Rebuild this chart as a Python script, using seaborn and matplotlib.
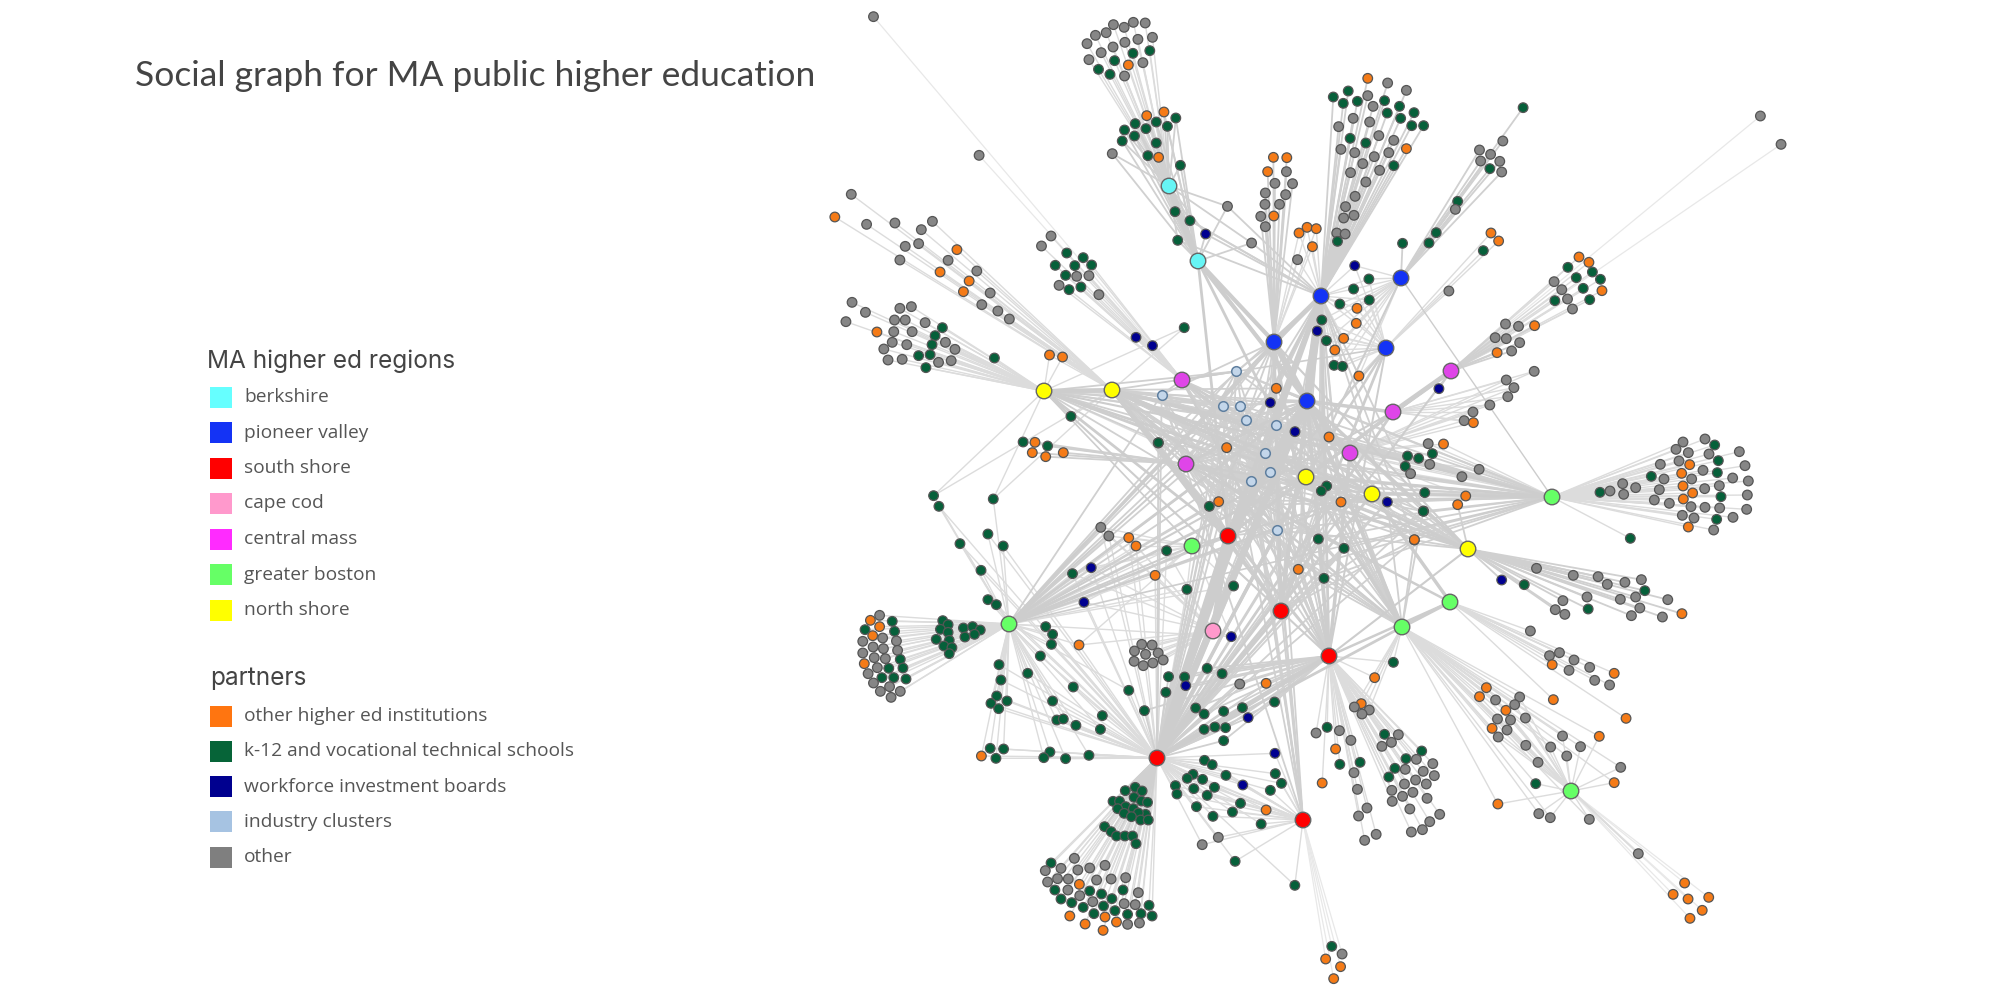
#!/usr/bin/env python3
"""Social graph for MA public higher education, node positions read off the picture."""
import matplotlib
matplotlib.use("Agg")
import matplotlib.pyplot as plt
from matplotlib.collections import LineCollection
from matplotlib.patches import Rectangle
import pandas as pd
import seaborn as sns

TITLE = "Social graph for MA public higher education"
REGION_HEADER = "MA higher ed regions"
REGION_LABELS = ["berkshire", "pioneer valley", "south shore", "cape cod", "central mass", "greater boston", "north shore"]
REGION_SWATCHES = ["#66FFFF", "#1433F5", "#FF0000", "#FF99CC", "#FF2BFF", "#66FF66", "#FFFF00"]
PARTNER_HEADER = "partners"
PARTNER_LABELS = ["other higher ed institutions", "k-12 and vocational technical schools",
                  "workforce investment boards", "industry clusters", "other"]
PARTNER_SWATCHES = ["#FF7510", "#066438", "#00008F", "#A6C3E2", "#7F7F7F"]

HUB_COLORS = {"berkshire": "#66F5F5", "pioneer": "#1433F5", "south": "#FF0000", "cape": "#FF99CC",
              "central": "#DF45E8", "boston": "#66FF66", "north": "#FFFF00"}
NODE_COLORS = {"o": "#F57B17", "k": "#06603A", "w": "#000090", "i": "#C3D6EA", "g": "#868686"}

# hubs: name, region, x, y in picture pixels
HUB_NAMES = ["berk1", "berk2", "pv1", "pv2", "pv3", "pv4", "pv5", "cm1", "cm2", "cm3", "cm4", "cm5",
             "ns1", "ns2", "ns3", "ns4", "ns5", "gb1", "gb2", "gb3", "gb4", "gb5", "gb6",
             "ss1", "ss2", "ss3", "ss4", "ss5", "cape"]
HUB_REGIONS = ["berkshire", "berkshire", "pioneer", "pioneer", "pioneer", "pioneer", "pioneer",
               "central", "central", "central", "central", "central",
               "north", "north", "north", "north", "north",
               "boston", "boston", "boston", "boston", "boston", "boston",
               "south", "south", "south", "south", "south", "cape"]
HUB_X = [1169, 1198, 1321, 1401, 1274, 1386, 1307, 1182, 1186, 1451, 1393, 1350,
         1044, 1112, 1306, 1372, 1468, 1552, 1450, 1402, 1571, 1192, 1009,
         1228, 1281, 1329, 1157, 1303, 1213]
HUB_Y = [186, 261, 296, 278, 342, 348, 401, 380, 464, 371, 412, 453,
         391, 390, 477, 494, 549, 497, 602, 627, 791, 546, 624,
         536, 611, 656, 758, 820, 631]

# partner nodes, grouped by the fan they sit in: kind, x, y in zoomed-crop pixels
far_nw = [("g",192,50),("g",468,466)]
top_fan = [("g",819,74),("g",847,82),("g",871,67),("g",902,69),("g",772,106),("g",800,98),("g",750,131),("g",787,158),
           ("g",818,141),("g",849,127),("g",883,118),("g",921,112),("g",755,179),("g",896,188),("g",848,228),
           ("k",870,160),("k",914,152),("k",822,182),("k",780,208),("k",810,223),("o",858,195)]
top_b = [("o",906,347),("o",951,336),("k",982,354),("k",876,371),("k",931,366),("k",960,379),("k",848,390),("k",904,386),
         ("k",874,408),("k",842,423),("k",931,429),("k",909,467),("g",816,461),("o",937,472),("k",994,496)]
berk_mid = [("k",980,635),("k",1019,662),("k",987,721),("w",1060,702),("g",1117,619),("g",1180,729)]
col_c = [("o",1237,472),("o",1272,473),("o",1222,515),("g",1271,515),("g",1241,550),("g",1287,551),("g",1216,579),
         ("g",1269,584),("g",1215,613),("g",1253,613),("g",1204,649),("o",1238,648),("g",1216,680)]
small_o = [("o",1304,699),("o",1325,682),("o",1349,686),("o",1339,740),("g",1300,779)]
left_a = [("g",134,583),("o",91,651),("g",174,673),("g",248,669),("g",346,664),("g",317,689),("g",310,731),("g",275,739),
          ("g",261,780),("o",410,749),("g",387,781),("o",366,816),("g",462,813),("o",442,843),("o",427,875),("g",497,879),
          ("g",475,914),("g",517,933),("g",547,957)]
left_b = [("g",136,907),("g",171,937),("g",120,965),("g",261,925),("g",291,920),("g",247,960),("g",275,960),("g",327,968),
          ("k",372,983),("o",201,996),("g",245,995),("g",293,995),("k",353,1007),("k",345,1034),("g",241,1027),("g",279,1034),
          ("g",380,1027),("g",219,1047),("g",405,1048),("k",340,1064),("k",310,1067),("g",230,1080),("g",267,1078),
          ("g",362,1087),("g",395,1082),("k",329,1103),("k",508,1074)]
mid_c = [("g",656,708),("g",631,738),("k",697,759),("k",740,773),("k",667,796),("k",718,797),("k",762,795),("k",694,826),
         ("g",723,829),("g",755,827),("g",677,856),("k",703,869),("k",734,861),("g",781,884),("w",878,1012),("w",921,1037)]
by_ns2 = [("o",652,1065),("o",686,1071),("k",708,1249),("k",936,1329),("k",1004,983)]
by_cm2 = [("k",583,1326),("o",614,1327),("k",647,1338),("o",607,1358),("o",642,1370),("o",688,1358)]
low_left = [("k",349,1487),("k",505,1497)]

col_d = [("o",177,235),("g",229,249),("g",278,271),("k",87,291),("k",126,273),("k",113,310),("k",150,304),("k",221,302),
         ("k",260,319),("k",228,339),("k",298,338),("k",263,355),("k",292,377),("k",323,377),("g",177,287),("g",191,319),
         ("g",139,355),("g",182,366),("g",101,380),("k",131,415),("k",172,429),("g",206,407),("g",245,421),("g",107,448),
         ("g",143,458),("g",194,470),("g",232,458),("o",278,446),("g",164,491),("g",132,518),("g",208,511),("k",245,497),
         ("g",172,546),("g",144,589),("g",119,620),("g",141,646),("g",114,654),("g",96,699),("g",118,702),("k",98,724)]
col_e = [("k",583,323),("g",530,423),("g",469,450),("g",498,463),("g",472,483),("g",522,484),("g",527,516),("k",496,506),
         ("k",412,604),("g",406,628),("k",356,698),("k",337,729),("k",268,730)]
by_pv4 = [("o",499,699),("o",519,723),("k",479,752),("g",389,873)]
pv_near = [("w",143,797),("k",180,837),("k",140,867),("k",104,912),("k",181,900),("o",149,925),("o",147,970),("k",57,960),
           ("w",45,993),("k",69,1022),("o",114,1015),("o",91,1050),("k",89,1096),("k",111,1099),("o",154,1128)]
fan_f = [("o",729,771),("o",755,787),("k",700,802),("k",764,816),("k",722,833),("k",785,838),("k",740,865),("g",664,845),
         ("g",684,869),("o",789,872),("k",666,902),("k",757,899),("g",699,897),("g",712,927)]
far_ne = [("g",1203,348),("g",1257,433)]
fan_g = [("g",537,972),("g",571,979),("o",613,977),("g",510,1013),("g",539,1016),("g",574,1028),("g",553,1053),("o",515,1058),("w",363,1166)]
fan_h = [("g",612,1114),("g",539,1140),("g",559,1163),("g",543,1190),("g",496,1215),("g",452,1236),("g",429,1262),("o",453,1268)]
fan_i = [("g",335,1331),("o",375,1332),("k",281,1368),("k",310,1375),("k",346,1361),("k",275,1399),("g",339,1393),("g",289,1421),
         ("g",468,1408),("g",423,1430),("k",326,1478),("o",433,1488)]

right_big = [("g",315,57),("k",344,75),("g",249,66),("g",228,88),("g",265,98),("g",327,102),("g",418,95),("k",355,122),("g",237,123),
             ("g",181,133),("o",269,134),("g",435,137),("g",309,151),("o",245,160),("k",352,158),("k",154,169),("g",192,177),("g",275,177),
             ("g",398,174),("g",445,183),("g",68,191),("g",107,203),("g",30,213),("k",0,217),("g",71,223),("g",178,209),("o",249,198),
             ("o",278,219),("g",314,206),("g",358,197),("k",363,230),("g",442,225),("o",250,237),("g",163,240),("g",208,250),("g",273,260),
             ("g",315,262),("g",359,264),("g",440,268),("g",247,286),("g",282,294),("g",399,292),("k",350,298),("o",265,321),("g",341,330),
             ("k",91,355)]

fan_j = [("w",527,240),("k",586,254),("g",618,205),("g",714,226),("g",779,230),("g",803,253),("g",849,247),("g",892,239),("k",901,272),
         ("g",750,291),("g",837,298),("g",877,291),("g",961,299),("g",687,302),("g",667,329),("g",692,343),("k",753,327),("g",888,324),
         ("g",866,347),("g",947,351),("o",998,341),("o",299,120),("o",412,14),("k",323,33)]
fan_k = [("g",602,393),("g",652,467),("g",678,458),("g",716,480),("o",659,494),("g",703,511),("g",757,502),("o",821,520),("g",770,541),
         ("g",809,555),("o",852,655),("o",662,599)]
fan_l = [("o",487,563),("o",469,590),("g",511,600),("g",574,591),("g",561,614),("o",538,631),("g",516,657),("g",550,660),("g",589,654),
         ("o",502,685),("g",541,690),("g",518,711),("g",590,736),("g",655,741),("g",686,708),("g",733,740),("g",697,768),("g",622,787),
         ("o",782,709),("g",838,802),("o",821,848),("k",616,851),("o",517,912),("g",624,941),("g",654,953),("g",756,958),("g",884,1061)]
fan_m = [("o",1005,1149),("o",975,1183),("o",1014,1197),("o",1068,1192),("o",1051,1231),("o",1019,1255)]
near_ss3 = [("k",244,487),("o",195,533),("o",160,611),("g",142,621),("g",181,630),("g",162,642)]
fan_n = [("k",71,682),("g",42,699),("g",103,692),("g",133,721),("k",221,703),("g",257,704),("g",239,727),("g",214,739),("k",318,753),
         ("k",277,776),("g",304,778),("g",347,791),("k",248,805),("k",232,831),("g",275,808),("g",322,814),("g",351,827),("g",141,818),
         ("o",93,747),("k",104,793),("k",157,787),("o",58,849),("g",273,852),("g",302,840),("g",330,852),("g",240,871),("g",295,877),
         ("g",268,889),("g",150,868),("g",241,904),("g",332,895),("g",287,927),("g",175,924),("g",153,948),("g",365,943),("g",339,965),
         ("g",320,989),("g",291,996),("g",199,1003),("g",169,1021)]
tail_s = [("k",83,1339),("g",110,1362),("o",67,1377),("o",106,1400),("o",88,1436)]

left_fan = [("g",208,346),("o",184,361),("k",241,364),("o",208,380),("k",170,389),("k",247,394),("o",190,407),("g",216,414),("g",164,424),
            ("g",252,423),("g",191,441),("g",218,446),("g",255,451),("g",164,459),("g",194,473),("g",223,476),("k",262,478),("o",168,491),
            ("g",202,503),("k",232,505),("k",269,504),("g",178,521),("k",214,533),("k",245,533),("k",277,537),("g",192,549),("g",234,560),
            ("g",262,574),("g",210,574),("g",238,592)]
left_dense = [("k",373,362),("k",387,374),("k",367,388),("k",387,397),("k",427,384),("k",451,380),("k",471,390),("k",431,411),("k",456,403),
              ("k",356,418),("k",390,421),("k",376,438),("k",397,443),("k",390,461)]
gb6_near = [("k",491,299),("k",513,314),("k",473,211),("k",418,131),("k",491,102),("k",531,138),("k",363,19),("k",642,380),("k",660,403),
            ("k",657,433),("k",628,468),("k",520,494),("k",595,520),("k",525,540),("k",714,561),("k",514,588),("k",541,603),("k",499,610),
            ("k",519,626),("k",660,603),("k",671,660),("k",688,657),("k",721,676),("k",790,647),("k",785,688),("k",859,571)]
row_w = [("o",474,768),("k",497,745),("k",532,747),("k",512,775),("k",653,756),("k",637,773),("k",694,776),("k",755,766)]
mid_low = [("w",761,203),("w",742,307),("k",712,221),("o",729,435),("g",786,82),("g",807,108),("o",859,113),("o",878,138),("k",958,152),
           ("o",928,226),("k",1011,268),("k",1133,258),("w",1127,410)]
gray_knot = [("g",893,433),("g",920,435),("g",874,453),("g",903,463),("g",936,459),("g",873,484),("g",897,497),("g",922,489),("g",949,480)]
ss4_up = [("k",963,530),("k",1005,531),("w",1008,557),("k",956,577),("k",900,632),("k",1064,505),("k",1103,521),("g",1149,552),("o",1218,550),
          ("k",1240,606),("k",1034,624),("k",1056,642),("k",1107,634),("k",1156,623),("w",1171,653),("k",1056,688),("k",1084,681),
          ("k",1112,683),("k",1107,722)]
ss4_right = [("k",1057,781),("k",1077,794),("k",1113,826),("k",1027,823),("k",1012,835),("k",1052,838),("k",1083,862),("k",981,857),("k",985,882),
             ("k",1029,866),("k",1064,886),("k",1036,920),("k",1079,949),("k",1130,936),("k",1151,910),("k",1229,871),("k",1242,821),("k",1258,850),
             ("k",1205,972),("w",1241,760),("w",1157,855),("o",1218,930),("g",1093,1012),("g",1051,1034),("k",1137,1084),("k",1293,1156)]
wedge = [("k",876,862),("k",850,872),("k",894,873),("k",873,892),("k",892,903),("k",908,907),("k",818,904),("k",835,904),("k",851,920),("k",871,926),
         ("k",830,926),("k",847,940),("k",903,943),("k",884,939),("k",866,950),("k",890,960),("k",910,960),("k",796,980),("k",813,995),("k",827,1008),
         ("k",849,1008),("k",869,1008),("k",878,1031)]
bottom_fan = [("k",656,1089),("g",717,1075),("g",682,1105),("g",726,1110),("g",757,1104),("g",797,1096),("g",641,1112),("g",647,1146),("g",673,1136),
              ("g",701,1137),("g",775,1140),("g",813,1137),("g",851,1133),("o",730,1153),("k",666,1170),("k",757,1173),("g",700,1170),("k",844,1170),
              ("g",884,1178),("k",788,1182),("k",682,1197),("g",731,1187),("k",815,1196),("k",710,1208),("k",740,1222),("g",765,1205),("g",847,1211),
              ("g",876,1214),("k",793,1218),("k",823,1232),("k",912,1216),("k",768,1241),("k",856,1243),("k",891,1241),("k",920,1248),("o",705,1248),
              ("o",797,1251),("o",745,1272),("o",827,1266),("g",856,1273),("g",887,1269),("o",792,1291)]
center_i = [("i",319,124),("i",95,194),("i",280,227),("i",331,227),("i",347,269),("i",437,285),("i",404,368),("i",420,426),("i",363,454),("i",440,601)]
center_p = [("o",439,175),("o",290,353),("o",597,321),("o",266,515),("o",633,516),("o",853,629),("o",505,718),("w",421,218),("w",495,305),("w",772,516),
            ("k",85,338),("k",238,529),("k",590,468),("k",574,483),("k",565,627),("k",642,655),("k",880,544),("k",582,745)]

# crop origin and scale of each group's coordinates
CROP_ORIGIN = {"TL": (800, 0), "TR": (1300, 0), "BL": (800, 500), "BR": (1300, 500),
               "C": (1130, 330), "Z": (1600, 420)}
CROP_SCALE = {"TL": 2.613, "TR": 2.613, "BL": 2.613, "BR": 2.613, "C": 3.0, "Z": 3.0}

# group, crop, linked hubs, edge weight (0 faint, 1 normal, 2 heavy)
GROUPS = [
    (far_nw, "TL", ["cm1"], 0), (top_fan, "TL", ["berk1"], 1), (top_b, "TL", ["berk1", "berk2"], 2),
    (berk_mid, "TL", ["berk1", "berk2", "pv1"], 2), (col_c, "TL", ["pv3"], 2), (small_o, "TL", ["pv1", "pv3"], 1),
    (left_a, "TL", ["ns2"], 1), (left_b, "TL", ["ns1"], 1), (mid_c, "TL", ["cm1"], 1),
    (by_ns2, "TL", ["ns2", "ns1"], 1), (by_cm2, "TL", ["cm2"], 2), (low_left, "TL", ["gb6", "ns1", "ns2"], 1),
    (col_d, "TR", ["pv1"], 2), (col_e, "TR", ["pv2"], 2), (by_pv4, "TR", ["pv4"], 1),
    (pv_near, "TR", ["pv1", "pv2", "pv4"], 1), (fan_f, "TR", ["cm3"], 1), (far_ne, "TR", ["cm3"], 0),
    (fan_g, "TR", ["cm3"], 2), (fan_h, "TR", ["cm4", "cm5"], 1), (fan_i, "TR", ["gb1", "cm5"], 1),
    (right_big, "Z", ["gb1"], 1), (fan_j, "BR", ["ns5"], 2), (fan_k, "BR", ["gb2"], 1),
    (fan_l, "BR", ["gb3", "gb4"], 1), (fan_m, "BR", ["gb4"], 0), (near_ss3, "BR", ["ss3", "gb3"], 1),
    (fan_n, "BR", ["ss3"], 1), (tail_s, "BR", ["ss5"], 0), (left_fan, "BL", ["gb6"], 1),
    (left_dense, "BL", ["gb6"], 1), (gb6_near, "BL", ["gb6", "ss4"], 1), (row_w, "BL", ["ss4", "gb6"], 1),
    (mid_low, "BL", ["gb6", "ss4", "gb5", "cape"], 1), (gray_knot, "BL", ["cape"], 1),
    (ss4_up, "BL", ["ss4", "ss3"], 2), (ss4_right, "BL", ["ss4", "ss5"], 1),
    (wedge, "BL", ["ss4"], 2), (bottom_fan, "BL", ["ss4"], 1),
    (center_i, "C", ["pv3", "pv5", "ns2", "ns1", "cm1", "cm2", "ss1", "ss4", "gb1", "ns5", "ss3", "gb6", "ss5"], 2),
    (center_p, "C", ["pv5", "ns2", "ss4", "cm2", "gb1", "gb3", "ss2", "pv1"], 2),
]

# heavy bundles between colleges that share many partners: hub, hub, line width
BUNDLES = [("ss4", "pv5", 5.0), ("ss4", "pv1", 3.5), ("ss4", "ss1", 5.0), ("ss1", "pv5", 6.0), ("pv1", "pv5", 6.0), ("pv3", "pv5", 4.5),
           ("berk2", "pv5", 3.0), ("berk2", "pv3", 3.0), ("berk1", "berk2", 4.5), ("pv1", "pv3", 3.5), ("pv1", "ss1", 3.0),
           ("ns2", "ns3", 2.5), ("ns2", "gb1", 1.8), ("ns2", "ss2", 2.5), ("ns2", "ss3", 2.2), ("ns1", "ss1", 2.0), ("ns1", "ns2", 3.0),
           ("cm4", "cm3", 3.5), ("cm4", "pv5", 2.5), ("cm5", "ss3", 2.5), ("pv5", "gb3", 3.0), ("pv5", "gb2", 2.5), ("pv5", "ss3", 2.8),
           ("pv5", "ss2", 2.5), ("ss4", "ss3", 3.2), ("ss4", "ss2", 2.5), ("ss4", "gb3", 2.0), ("cape", "pv5", 3.0), ("cape", "ss1", 4.0),
           ("gb6", "ss1", 2.0), ("gb6", "pv3", 2.0), ("gb6", "ns3", 2.0), ("gb6", "gb5", 1.4), ("gb6", "cm2", 1.4),
           ("ns5", "cm2", 2.0), ("ns5", "ss3", 1.5), ("ns5", "pv5", 2.2), ("gb3", "gb2", 2.5), ("gb1", "ns4", 2.0), ("gb1", "ns3", 2.0),
           ("gb3", "ns3", 2.5), ("ss3", "gb2", 1.8), ("ss3", "pv4", 1.4), ("ss2", "pv3", 2.0), ("pv4", "cm1", 1.2), ("pv3", "ss2", 1.8),
           ("cm1", "ss3", 1.8), ("cm2", "gb2", 1.8), ("ns4", "ss4", 2.0), ("ns4", "gb5", 1.5), ("pv2", "gb1", 1.0), ("pv2", "ns3", 1.5),
           ("pv4", "ss1", 1.8), ("cm3", "ss4", 1.5), ("cm3", "ns3", 1.8), ("ns3", "ss4", 2.5), ("gb5", "pv1", 1.2), ("ns1", "gb5", 1.2),
           ("gb6", "pv1", 1.5), ("gb6", "pv5", 2.0), ("gb6", "cm4", 1.5), ("gb6", "ns4", 1.5), ("gb6", "gb1", 1.2), ("ns1", "ss3", 1.5),
           ("ns1", "cm5", 1.5), ("ns1", "ns5", 1.5), ("ns1", "ns3", 2.0), ("ns2", "ns5", 1.8), ("ns2", "ns4", 2.0), ("ns2", "cm5", 1.8),
           ("ns2", "gb3", 1.8), ("ns2", "ss1", 2.0), ("berk2", "cm5", 1.5), ("berk2", "ns3", 2.0), ("berk2", "ss1", 2.0), ("cm1", "ns3", 2.0),
           ("cm1", "ns4", 1.5), ("cm2", "ns4", 1.5), ("cm2", "pv5", 2.0), ("cm3", "ss1", 1.5), ("cm4", "ss1", 2.0), ("cm4", "ss4", 2.0),
           ("pv4", "ss2", 2.0), ("pv4", "ns3", 1.8), ("pv3", "ss3", 2.0), ("pv3", "ns5", 1.5), ("pv1", "ss2", 2.5), ("pv1", "ss3", 2.0)]

sns.set_theme(style="white")
plt.rcParams["font.family"] = ["Lato", "DejaVu Sans"]


def crop_to_px(group, crop):
    x0, y0 = CROP_ORIGIN[crop]
    sx = CROP_SCALE[crop]
    sy = 3.0
    return [(kind, x0 + x / sx, y0 + y / sy) for kind, x, y in group]


def main():
    fig = plt.figure(figsize=(20, 10), dpi=100)
    ax = fig.add_axes([0, 0, 1, 1])

    hubs = pd.DataFrame({"name": HUB_NAMES, "region": HUB_REGIONS, "x": HUB_X, "y": HUB_Y})
    hub_pos = {n: (x, y) for n, x, y in zip(HUB_NAMES, HUB_X, HUB_Y)}

    rows = []
    edges = {0: [], 1: [], 2: []}
    for group, crop, linked, weight in GROUPS:
        for kind, x, y in crop_to_px(group, crop):
            rows.append((kind, x, y))
            for hub in linked:
                edges[weight].append([(x, y), hub_pos[hub]])
    nodes = pd.DataFrame(rows, columns=["kind", "x", "y"])

    ax.add_collection(LineCollection(edges[0], colors="#e8e8e8", linewidths=0.9, zorder=1))
    ax.add_collection(LineCollection(edges[1], colors="#dcdcdc", linewidths=1.0, zorder=1))
    ax.add_collection(LineCollection(edges[2], colors="#d0d0d0", linewidths=1.3, zorder=1))
    ax.add_collection(LineCollection([[hub_pos[a], hub_pos[b]] for a, b, _ in BUNDLES],
                                     colors="#cdcdcd", linewidths=[w for _, _, w in BUNDLES], zorder=1))

    plain = nodes[nodes["kind"] != "i"]
    sns.scatterplot(data=plain, x="x", y="y", hue="kind", palette=NODE_COLORS, s=48,
                    edgecolor="#555555", linewidth=0.9, legend=False, ax=ax, zorder=3)
    sns.scatterplot(data=nodes[nodes["kind"] == "i"], x="x", y="y", color=NODE_COLORS["i"], s=48,
                    edgecolor="#5f7f9f", linewidth=1.1, legend=False, ax=ax, zorder=3)
    sns.scatterplot(data=hubs, x="x", y="y", hue="region", palette=HUB_COLORS, s=125,
                    edgecolor="#666666", linewidth=1.0, legend=False, ax=ax, zorder=4)

    ax.text(135, 76, TITLE, fontsize=25.5, color="#444444", va="center", ha="left")

    ax.text(207, 361, REGION_HEADER, fontsize=17.6, family="Inter", color="#444444", va="center")
    for i, (label, col) in enumerate(zip(REGION_LABELS, REGION_SWATCHES)):
        yc = 397 + i * 35.5
        ax.add_patch(Rectangle((210, yc - 10.5), 22, 21, facecolor=col, edgecolor="none"))
        ax.text(244, yc, label, fontsize=13.8, family="Open Sans", color="#555555", va="center")

    ax.text(210, 678, PARTNER_HEADER, fontsize=17.6, family="Inter", color="#444444", va="center")
    for i, (label, col) in enumerate(zip(PARTNER_LABELS, PARTNER_SWATCHES)):
        yc = 716 + i * 35.3
        ax.add_patch(Rectangle((210, yc - 10.5), 22, 21, facecolor=col, edgecolor="none"))
        ax.text(244, yc, label, fontsize=13.8, family="Open Sans", color="#555555", va="center")

    ax.set_xlim(0, 2000)
    ax.set_ylim(1000, 0)
    ax.set_xlabel("")
    ax.set_ylabel("")
    ax.set_axis_off()
    fig.savefig("out.png", dpi=100, facecolor="white")
    plt.close(fig)


if __name__ == "__main__":
    main()
